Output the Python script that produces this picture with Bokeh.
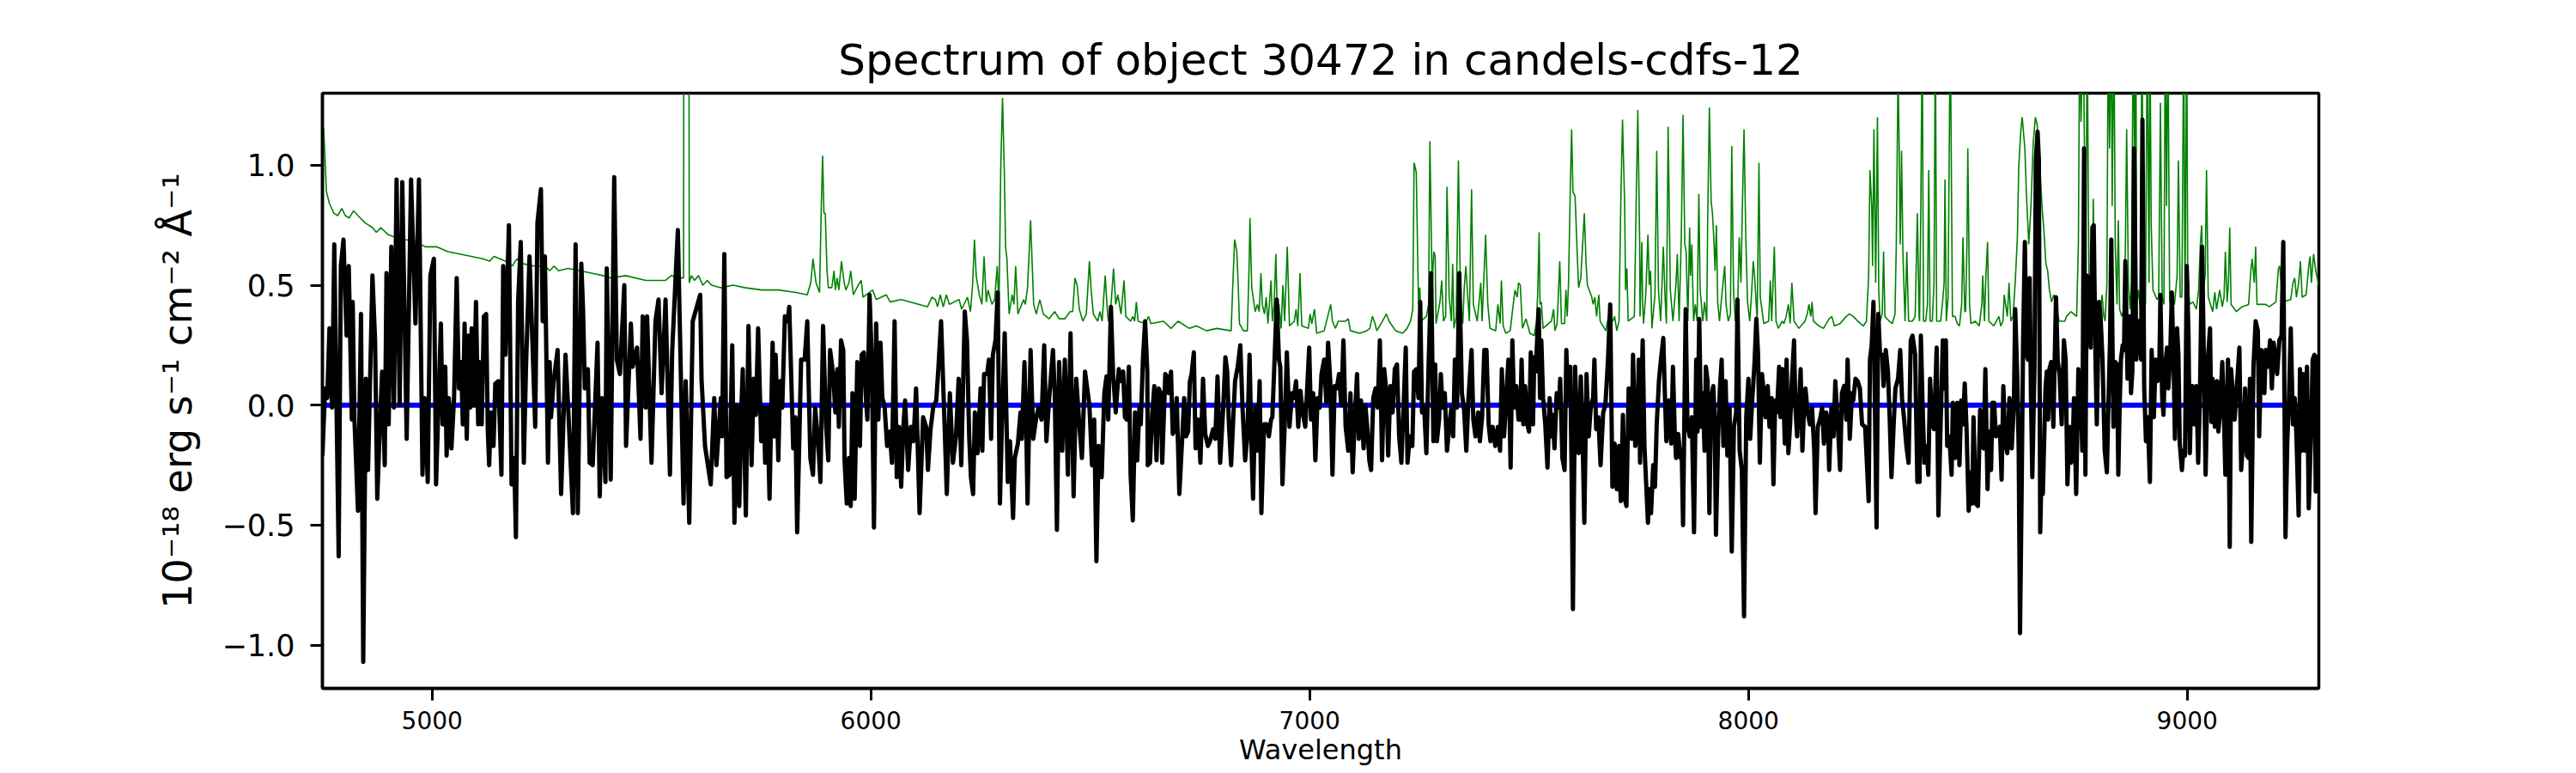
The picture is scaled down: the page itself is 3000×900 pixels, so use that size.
import numpy as np
from bokeh.plotting import figure
from bokeh.models import FixedTicker
from bokeh.embed import file_html
from bokeh.resources import INLINE

# ---- data (wavelength [A], flux [1e-18 erg/s/cm2/A]) ----
obs_a = [(4750,-0.21),(4756,0.07),(4761,0.03),(4766,0.32),(4772,-0.01),(4777,0.67),(4787,-0.63),(4792,0.58),(4798,0.69),(4805,0.29),(4810,0.58),(4817,-0.06),(4819,0.43),(4823,-0.06),(4831,-0.44),(4838,0.38),(4843,-1.07),(4849,0.11),(4854,-0.27),(4864,0.54),(4870,0.27),(4875,-0.39),(4880,-0.13),(4886,0.14),(4892,-0.25),(4896,0.55),(4901,-0.08),(4907,0.66),(4913,-0.01),(4919,0.94),(4926,0.00),(4932,0.93),(4942,-0.14),(4952,0.94),(4962,0.34),(4970,0.94),(4978,-0.29),(4983,0.03),(4990,-0.32),(4996,0.54),(5004,0.61),(5009,-0.33),(5017,0.16),(5020,0.34),(5024,-0.08),(5030,0.16),(5033,-0.21),(5038,0.03),(5044,-0.18),(5050,0.03),(5056,0.53),(5061,0.07),(5066,0.18),(5070,-0.08),(5074,0.34),(5079,-0.14),(5083,0.29),(5087,-0.01),(5090,0.32),(5095,0.00),(5100,0.43),(5105,-0.08),(5108,0.18),(5113,-0.08),(5118,0.37),(5123,0.38),(5127,-0.11),(5130,-0.25),(5134,-0.03),(5140,-0.17),(5144,0.09),(5151,0.10),(5158,-0.29),(5162,0.58),(5167,0.21),(5175,0.75),(5181,-0.33),(5187,-0.22),(5191,-0.55),(5196,0.43),(5202,0.68),(5209,-0.24),(5214,0.16),(5222,0.62),(5235,-0.09),(5240,0.76),(5248,0.90),(5252,0.35),(5257,0.62),(5264,-0.24),(5268,0.18),(5271,-0.05),(5277,0.10),(5286,0.23),(5294,-0.37),(5304,0.21),(5310,-0.01),(5321,-0.45),(5327,0.67),(5332,-0.45),(5340,0.59),(5344,0.40),(5348,0.07),(5355,0.15),(5359,-0.24),(5366,-0.25),(5377,0.26),(5382,-0.38),(5387,0.03),(5395,-0.32),(5398,0.57),(5407,-0.31),(5415,0.95),(5421,0.19),(5428,0.13),(5438,0.50),(5442,-0.17),(5453,0.34),(5457,0.16),(5467,0.24),(5475,-0.14),(5480,0.37),(5487,-0.01),(5490,0.37),(5500,-0.24),(5509,0.35),(5516,0.44),(5523,0.05),(5532,0.44),(5542,-0.29),(5547,0.22),(5560,0.73),(5573,-0.41),(5578,0.10),(5586,-0.49),(5594,0.35),(5611,0.46),(5614,0.11),(5622,-0.17),(5635,-0.33),(5643,0.03),(5648,-0.25),(5658,0.03)]
obs_b = [(5661,-0.13),(5666,0.63),(5671,-0.30),(5678,-0.29),(5684,0.25),(5689,-0.49),(5695,0.00),(5700,-0.42),(5705,0.00),(5708,0.15),(5715,-0.46),(5721,0.33),(5728,-0.25),(5733,0.11),(5738,-0.04),(5743,0.32),(5750,-0.15),(5756,-0.01),(5759,-0.24),(5764,-0.01),(5769,-0.39),(5776,0.26),(5780,-0.13),(5783,0.21),(5789,-0.23),(5793,0.10),(5798,-0.01),(5804,0.37),(5810,0.35),(5814,0.41),(5823,-0.18),(5828,-0.05),(5832,-0.53),(5841,0.19),(5849,0.19),(5855,0.35),(5862,-0.22),(5868,-0.29),(5873,-0.01),(5880,-0.16),(5885,-0.32),(5891,0.33),(5898,-0.09),(5903,-0.23),(5907,0.23),(5914,0.13),(5919,-0.03),(5924,0.15),(5927,-0.09),(5932,0.27),(5937,0.23),(5940,-0.23),(5945,-0.41),(5950,-0.22),(5954,-0.42),(5958,0.05),(5963,-0.39),(5969,0.18),(5975,-0.17),(5979,0.21),(5984,0.22),(5989,0.02),(5992,-0.06),(5997,0.46),(6002,0.19),(6007,-0.51),(6012,0.34),(6017,-0.06),(6022,0.26),(6026,0.03),(6031,0.00),(6037,-0.17),(6043,-0.11),(6048,-0.24),(6054,0.35),(6059,-0.30),(6064,-0.09),(6069,-0.34),(6074,-0.09),(6078,0.02),(6085,-0.27),(6091,-0.09),(6097,-0.15),(6103,0.07),(6111,-0.45),(6119,-0.05),(6126,-0.09),(6130,-0.27),(6136,-0.10),(6142,-0.01),(6149,0.02),(6154,0.16),(6160,0.35),(6167,-0.03),(6173,-0.37),(6180,0.05),(6187,-0.24),(6194,-0.13),(6200,0.11),(6206,-0.25),(6214,0.39),(6219,0.27),(6224,-0.13),(6228,-0.30),(6233,-0.37),(6237,-0.03),(6243,-0.20),(6250,0.07),(6254,-0.19),(6258,0.13),(6265,0.13),(6269,0.19),(6274,-0.14),(6278,0.21),(6284,0.27),(6289,0.47),(6294,-0.41),(6299,-0.06),(6305,0.30),(6312,-0.32),(6317,-0.15),(6324,-0.47),(6328,-0.22),(6335,-0.16),(6341,-0.03),(6344,-0.14),(6350,0.18),(6354,-0.08),(6357,-0.41),(6364,0.23),(6370,-0.14),(6377,-0.05),(6382,-0.01),(6389,-0.06),(6395,0.25),(6400,-0.15),(6406,0.02),(6415,0.23),(6419,0.05),(6424,-0.52),(6429,0.18),(6436,-0.19),(6442,0.19),(6449,-0.29),(6455,0.30),(6462,-0.38),(6468,0.11),(6475,-0.08),(6481,-0.22),(6488,0.14),(6498,0.00),(6504,-0.25),(6509,-0.06),(6514,-0.65),(6519,-0.17),(6526,-0.30),(6532,0.05),(6537,0.12),(6541,-0.06),(6547,0.41),(6552,0.13),(6558,-0.03),(6565,0.15)]
obs_c = [(6570,0.10),(6575,0.14),(6579,-0.05),(6583,-0.06),(6588,0.16),(6592,-0.29),(6597,-0.48),(6602,-0.03),(6607,-0.23),(6612,-0.01),(6615,-0.08),(6620,0.19),(6625,0.35),(6630,0.14),(6631,-0.25),(6636,-0.24),(6641,-0.04),(6646,0.08),(6651,-0.23),(6656,0.07),(6661,0.05),(6664,-0.24),(6671,0.13),(6675,0.12),(6679,0.05),(6684,0.14),(6688,-0.12),(6693,-0.10),(6697,0.03),(6703,-0.37),(6710,-0.12),(6714,0.03),(6718,-0.13),(6723,-0.11),(6727,0.10),(6731,0.13),(6736,0.22),(6740,-0.18),(6746,-0.06),(6751,-0.24),(6757,0.11),(6762,-0.12),(6768,-0.17),(6773,-0.15),(6780,-0.10),(6785,-0.14),(6790,0.12),(6796,-0.24),(6803,-0.01),(6808,0.20),(6812,0.14),(6816,-0.08),(6821,-0.25),(6826,-0.05),(6830,0.10),(6836,0.16),(6842,0.25),(6847,-0.01),(6853,-0.23),(6858,-0.13),(6863,0.21),(6868,-0.21),(6871,-0.39),(6876,-0.01),(6881,-0.19),(6886,0.10),(6890,-0.45),(6896,-0.08),(6902,-0.08),(6907,-0.13),(6912,-0.06),(6915,-0.05),(6920,0.19),(6925,0.44),(6930,0.19),(6933,0.16),(6938,-0.33),(6943,-0.09),(6948,0.22),(6954,-0.09),(6960,0.05),(6964,0.03),(6969,0.10),(6974,-0.09),(6979,0.06),(6984,-0.03),(6990,-0.09),(6993,0.02),(6999,0.24),(7003,-0.06),(7008,0.05),(7013,-0.23),(7018,0.03),(7023,-0.01),(7027,0.13),(7033,0.19),(7038,0.01),(7042,0.26),(7047,0.10),(7052,-0.29),(7057,0.08),(7062,0.07),(7067,0.13),(7072,0.00),(7077,0.27),(7082,-0.09),(7088,-0.19),(7093,0.05),(7098,-0.28),(7103,-0.05),(7108,0.13),(7112,-0.14),(7117,0.02),(7123,-0.18),(7127,0.00),(7132,-0.11),(7136,-0.23),(7140,-0.27),(7145,0.03),(7150,0.07),(7155,-0.01),(7160,0.27),(7165,-0.23),(7170,0.15),(7175,0.05),(7179,-0.21),(7184,0.08),(7189,-0.03),(7194,0.15),(7199,0.17),(7204,-0.13),(7209,-0.24),(7214,-0.01),(7219,0.24),(7223,-0.24),(7228,-0.13),(7234,-0.17),(7238,0.14),(7243,0.15),(7248,0.03),(7252,0.43),(7256,-0.03),(7261,-0.01),(7266,-0.20),(7271,0.16),(7277,0.55),(7282,-0.15),(7286,0.17),(7290,-0.15),(7295,-0.06),(7299,0.13),(7303,-0.01),(7308,0.05),(7313,-0.19),(7318,-0.09),(7323,-0.01),(7327,-0.13),(7331,0.19),(7336,-0.01),(7341,0.55),(7347,0.05),(7352,-0.02),(7357,-0.19),(7362,0.03),(7369,0.23),(7373,-0.06),(7378,-0.13),(7384,-0.03),(7388,-0.15),(7393,-0.05),(7398,0.23),(7403,0.23),(7408,-0.08),(7412,-0.15),(7417,-0.09),(7423,-0.17),(7429,-0.09),(7434,-0.19),(7438,0.15),(7443,-0.13),(7450,0.10),(7453,0.19),(7458,-0.26),(7462,0.27),(7466,-0.01),(7471,0.08),(7476,-0.06)]
obs_d = [(7480,-0.06),(7483,0.19),(7487,-0.08),(7491,0.08),(7496,-0.08),(7500,-0.11),(7504,0.22),(7509,-0.08),(7512,0.20),(7515,0.14),(7519,0.29),(7522,0.40),(7525,0.03),(7528,0.27),(7532,0.03),(7537,-0.08),(7542,-0.26),(7547,0.03),(7551,-0.13),(7554,-0.04),(7558,-0.18),(7563,0.05),(7568,-0.01),(7571,0.11),(7576,-0.22),(7581,-0.27),(7585,0.23),(7589,0.02),(7594,0.16),(7597,-0.29),(7600,-0.85),(7605,0.16),(7609,-0.06),(7613,-0.20),(7618,0.12),(7622,-0.13),(7626,-0.49),(7631,0.13),(7636,-0.13),(7641,0.00),(7646,0.03),(7649,0.19),(7653,-0.10),(7658,-0.05),(7663,-0.25),(7669,-0.03),(7674,0.00),(7680,0.19),(7685,0.42),(7690,-0.34),(7695,-0.16),(7700,-0.35),(7705,-0.17),(7709,-0.40),(7714,-0.04),(7718,-0.39),(7722,-0.42),(7727,0.07),(7734,-0.14),(7737,0.21),(7742,-0.17),(7747,-0.09),(7750,0.19),(7753,-0.24),(7759,0.27),(7763,-0.17),(7766,-0.29),(7771,-0.49),(7774,-0.35),(7778,-0.45),(7783,-0.25),(7787,-0.34),(7791,-0.08),(7796,0.10),(7800,0.18),(7806,0.28),(7809,0.08),(7813,-0.15),(7819,0.02),(7824,-0.16),(7828,0.16),(7832,-0.11),(7835,-0.22),(7840,-0.12),(7845,-0.22),(7848,-0.19),(7851,-0.50),(7857,0.40),(7861,-0.08),(7866,-0.13),(7871,-0.05),(7876,-0.53),(7881,0.19),(7884,-0.11),(7888,0.36),(7892,-0.09),(7896,0.05),(7900,-0.19),(7903,0.16),(7907,0.10),(7911,-0.45),(7915,0.03),(7920,0.08),(7923,-0.06),(7926,-0.54),(7931,-0.13),(7935,0.07),(7939,0.19),(7943,-0.17),(7948,0.10),(7952,-0.21),(7957,-0.01),(7962,-0.61),(7967,-0.09),(7972,-0.03),(7975,0.44),(7980,-0.19),(7985,-0.27),(7990,-0.88),(7995,-0.05),(8000,0.11),(8004,-0.14),(8009,0.03),(8014,0.18),(8018,0.36),(8022,0.21),(8026,-0.24),(8031,0.13),(8035,0.05),(8039,-0.05),(8044,0.08),(8048,-0.09),(8053,0.03),(8057,-0.33),(8061,0.02),(8065,-0.03),(8070,0.16),(8073,-0.05),(8078,0.15),(8083,-0.16),(8087,0.19),(8091,-0.20),(8095,-0.08),(8099,0.10),(8104,0.27),(8107,-0.01),(8111,-0.13),(8116,0.03),(8119,0.15),(8123,-0.19),(8127,0.00),(8130,0.07),(8135,-0.03),(8140,-0.08),(8145,-0.01),(8150,-0.19),(8153,-0.45),(8158,-0.09),(8163,-0.06),(8168,-0.01),(8172,-0.16),(8177,-0.03),(8181,-0.06),(8184,-0.27),(8189,-0.01),(8194,-0.13),(8198,0.10),(8204,-0.09),(8209,-0.27),(8213,0.05),(8218,0.08),(8223,-0.06),(8226,0.19),(8231,-0.14),(8236,0.05),(8239,0.02),(8244,0.11),(8249,0.10),(8254,0.07),(8259,-0.08),(8266,-0.09),(8270,-0.24),(8274,-0.40),(8277,0.19),(8281,0.25),(8285,0.43),(8288,0.03),(8292,-0.51),(8296,0.38),(8300,0.21),(8305,0.21),(8308,0.08),(8313,0.23),(8318,0.14),(8322,-0.06),(8326,-0.30),(8331,-0.08),(8335,0.07),(8341,0.11),(8346,0.23),(8350,0.03),(8355,-0.06),(8360,-0.17),(8365,-0.24),(8370,0.27),(8374,0.29),(8380,0.21),(8385,-0.32),(8389,-0.22)]
obs_e = [(8390,-0.32),(8393,0.29),(8397,0.00),(8401,-0.24),(8406,-0.17),(8410,-0.29),(8414,0.11),(8419,-0.08),(8423,-0.10),(8429,0.24),(8433,-0.46),(8438,-0.08),(8443,0.27),(8447,0.07),(8450,0.27),(8453,-0.17),(8458,-0.13),(8463,-0.29),(8466,0.01),(8471,-0.22),(8476,0.01),(8481,-0.25),(8485,0.02),(8489,-0.08),(8493,0.09),(8497,-0.09),(8502,-0.44),(8506,-0.28),(8510,-0.41),(8513,-0.05),(8518,-0.41),(8523,-0.42),(8528,-0.02),(8532,-0.17),(8536,-0.18),(8540,0.15),(8545,-0.35),(8548,-0.11),(8553,-0.27),(8556,0.01),(8560,0.01),(8564,-0.13),(8569,-0.12),(8573,-0.09),(8577,-0.31),(8581,0.08),(8585,-0.15),(8590,-0.20),(8595,0.03),(8600,-0.18),(8605,0.00),(8608,0.40),(8613,0.10),(8616,-0.19),(8619,-0.95),(8623,-0.30),(8626,0.26),(8630,0.68),(8634,0.21),(8637,0.19),(8641,0.53),(8644,0.03),(8647,-0.30),(8652,0.16),(8655,1.02),(8659,1.14),(8662,1.02),(8665,-0.53),(8669,-0.19),(8671,-0.37),(8677,0.07),(8680,0.14),(8683,-0.06),(8686,0.15),(8690,0.18),(8695,-0.09),(8697,0.10),(8701,0.45),(8705,0.18),(8709,0.13),(8714,-0.08),(8719,0.27),(8723,0.19),(8727,-0.33),(8732,-0.09),(8735,-0.24),(8738,-0.23),(8742,0.03),(8747,-0.37),(8752,0.15),(8755,-0.09),(8758,-0.01),(8761,-0.19),(8765,1.07),(8768,-0.29),(8771,0.54),(8776,0.53),(8780,0.24),(8784,0.74),(8787,0.75),(8791,0.19),(8794,-0.08),(8799,0.43),(8802,0.39),(8807,0.19),(8812,-0.19),(8817,-0.28),(8820,-0.03),(8824,0.26),(8827,0.69),(8832,-0.09),(8836,0.18),(8840,0.17),(8843,-0.29),(8846,-0.01),(8849,0.19),(8853,0.25),(8856,0.23),(8859,0.60),(8864,0.11),(8869,0.37),(8872,0.05),(8875,0.14),(8879,1.07),(8884,0.19),(8887,0.34),(8890,0.35),(8895,0.19),(8898,1.19),(8902,0.07),(8906,-0.15),(8910,-0.05),(8915,-0.32),(8919,0.23),(8924,-0.05),(8928,0.19),(8932,0.10),(8936,0.11),(8939,0.46),(8943,0.03),(8946,-0.04),(8949,0.15),(8954,0.24),(8957,0.07),(8961,0.19),(8965,0.47),(8969,0.18),(8972,-0.14),(8977,0.32),(8980,0.21),(8983,-0.16),(8988,-0.27),(8991,-0.19),(8995,-0.21),(8999,0.58),(9003,0.29),(9006,-0.20),(9009,0.03),(9012,0.08),(9016,-0.08),(9021,0.08),(9025,-0.24),(9029,0.03),(9034,0.66),(9039,0.07),(9042,-0.29),(9047,0.19),(9052,0.32),(9055,-0.07),(9058,0.11),(9063,-0.09),(9068,0.10),(9071,-0.11),(9074,-0.05),(9080,0.18),(9084,-0.06),(9087,-0.29),(9093,0.19),(9097,-0.59),(9100,0.15),(9104,0.05),(9108,-0.06),(9112,0.05),(9115,0.13),(9119,0.24),(9123,-0.27),(9128,-0.13),(9132,0.07),(9136,-0.21),(9140,-0.22),(9143,0.11),(9146,-0.57),(9151,0.16),(9156,0.35),(9161,0.31),(9164,-0.13),(9169,0.23),(9172,0.09),(9176,0.05),(9179,0.23),(9184,0.16),(9189,0.27),(9193,0.07),(9197,0.26),(9202,0.19),(9205,0.13),(9210,0.27),(9215,0.29),(9219,0.68),(9224,-0.55),(9228,-0.16),(9232,0.03),(9236,0.32),(9241,-0.08),(9245,0.03),(9249,-0.13),(9254,-0.46),(9257,0.15),(9261,-0.19),(9265,0.13),(9269,-0.19),(9273,0.16),(9277,-0.43),(9282,-0.13),(9286,0.19),(9290,0.21),(9293,-0.36),(9297,0.21)]

sky_a = [(4750,1.16),(4753,1.15),(4759,0.89),(4766,0.84),(4776,0.80),(4785,0.79),(4794,0.82),(4802,0.79),(4811,0.78),(4821,0.81),(4831,0.79),(4847,0.76),(4864,0.74),(4873,0.72),(4883,0.74),(4900,0.71),(4916,0.70),(4939,0.69),(4965,0.68),(4984,0.66),(5010,0.66),(5036,0.64),(5063,0.63),(5089,0.62),(5115,0.61),(5131,0.60),(5141,0.62),(5167,0.60),(5183,0.58),(5193,0.61),(5206,0.59),(5232,0.58),(5258,0.58),(5268,0.56),(5278,0.58),(5288,0.56),(5310,0.57),(5337,0.56),(5363,0.55),(5389,0.54),(5408,0.53),(5441,0.54),(5487,0.52),(5532,0.52),(5545,0.54),(5565,0.53),(5573,0.53),(5575,4.0),(5584,4.0),(5586,0.51),(5591,0.54),(5598,0.52),(5607,0.54),(5617,0.50),(5627,0.52),(5637,0.50),(5656,0.49)]
sky_b = [(5660,0.49),(5686,0.50),(5712,0.49),(5751,0.48),(5790,0.48),(5829,0.47),(5855,0.46),(5863,0.51),(5868,0.61),(5875,0.51),(5883,0.47),(5887,0.83),(5890,1.04),(5893,0.80),(5896,0.80),(5900,0.56),(5903,0.49),(5911,0.49),(5916,0.56),(5919,0.48),(5923,0.53),(5927,0.48),(5933,0.60),(5939,0.51),(5943,0.48),(5950,0.51),(5954,0.56),(5960,0.46),(5971,0.50),(5978,0.52),(5982,0.45),(6004,0.48),(6012,0.44),(6035,0.46),(6044,0.43),(6069,0.44),(6110,0.42),(6129,0.41),(6139,0.45),(6147,0.44),(6152,0.41),(6158,0.46),(6165,0.41),(6172,0.46),(6179,0.42),(6201,0.44),(6207,0.40),(6220,0.45),(6227,0.39),(6232,0.51),(6236,0.69),(6240,0.54),(6247,0.46),(6253,0.42),(6258,0.62),(6263,0.43),(6267,0.48),(6276,0.42),(6282,0.44),(6288,0.58),(6292,0.41),(6296,0.99),(6300,1.28),(6304,0.98),(6307,0.66),(6310,0.61),(6315,0.38),(6322,0.46),(6326,0.42),(6330,0.58),(6335,0.38),(6348,0.44),(6352,0.42),(6357,0.49),(6364,0.77),(6371,0.42),(6377,0.38),(6385,0.44),(6393,0.38),(6406,0.36),(6419,0.39),(6429,0.36),(6442,0.36),(6454,0.39),(6460,0.39),(6465,0.53),(6470,0.50),(6475,0.40),(6483,0.35),(6491,0.38),(6498,0.60),(6502,0.48),(6507,0.38),(6517,0.35),(6522,0.39),(6527,0.35),(6534,0.54),(6538,0.42),(6541,0.35),(6547,0.41),(6553,0.57),(6558,0.42),(6563,0.46),(6569,0.39)]
sky_c = [(6570,0.38),(6577,0.52),(6581,0.37),(6592,0.35),(6597,0.37),(6601,0.35),(6605,0.43),(6609,0.35),(6625,0.34),(6633,0.37),(6638,0.34),(6667,0.35),(6684,0.32),(6700,0.35),(6726,0.32),(6742,0.33),(6765,0.31),(6788,0.32),(6821,0.31),(6825,0.51),(6829,0.69),(6834,0.64),(6837,0.51),(6840,0.34),(6849,0.31),(6858,0.31),(6862,0.58),(6864,0.78),(6868,0.49),(6876,0.39),(6881,0.42),(6885,0.39),(6889,0.55),(6892,0.42),(6897,0.38),(6901,0.45),(6905,0.34),(6912,0.52),(6915,0.35),(6919,0.42),(6923,0.63),(6927,0.32),(6930,0.42),(6935,0.32),(6939,0.50),(6943,0.35),(6949,0.66),(6954,0.33),(6965,0.35),(6969,0.40),(6973,0.33),(6978,0.55),(6982,0.33),(6997,0.32),(7001,0.38),(7005,0.34),(7011,0.40),(7016,0.30),(7033,0.31),(7048,0.42),(7052,0.35),(7059,0.32),(7065,0.35),(7082,0.35),(7088,0.36),(7093,0.31),(7114,0.30),(7130,0.31),(7137,0.32),(7143,0.37),(7149,0.34),(7153,0.31),(7166,0.35),(7175,0.38),(7181,0.35),(7196,0.31),(7212,0.30),(7222,0.32),(7230,0.35),(7235,0.40),(7238,1.01),(7243,0.97),(7248,0.42),(7251,0.49),(7254,0.35),(7266,0.37),(7271,0.42),(7274,1.10),(7279,0.51),(7283,0.64),(7286,0.62),(7288,0.34),(7297,0.43),(7301,0.52),(7305,0.35),(7310,0.37),(7313,0.91),(7318,0.45),(7323,0.35),(7326,0.59),(7329,0.32),(7334,0.37),(7339,1.02),(7344,0.43),(7349,0.34),(7352,0.48),(7356,0.58),(7360,0.46),(7364,0.35),(7369,0.90),(7373,0.42),(7382,0.35),(7390,0.51),(7393,0.35),(7401,0.71),(7406,0.42),(7411,0.32),(7424,0.31),(7429,0.42),(7434,0.34),(7437,0.52),(7441,0.33),(7447,0.30),(7457,0.31),(7464,0.42),(7468,0.48),(7473,0.45),(7476,0.51)]
sky_d = [(7480,0.50),(7485,0.32),(7493,0.36),(7502,0.30),(7512,0.29),(7517,0.35),(7520,0.48),(7523,0.72),(7525,0.42),(7528,0.43),(7532,0.32),(7538,0.33),(7551,0.35),(7556,0.40),(7559,0.31),(7564,0.34),(7570,0.60),(7574,0.34),(7581,0.34),(7584,0.48),(7587,0.37),(7590,0.51),(7594,0.90),(7597,1.15),(7600,0.89),(7605,0.87),(7610,0.62),(7613,0.49),(7618,0.53),(7623,0.70),(7626,0.80),(7630,0.59),(7633,0.50),(7643,0.45),(7646,0.42),(7650,0.45),(7654,0.37),(7659,0.46),(7662,0.35),(7675,0.31),(7682,0.38),(7691,0.35),(7695,0.37),(7700,0.31),(7705,0.35),(7709,0.83),(7713,1.19),(7718,0.83),(7720,0.48),(7723,0.57),(7726,0.35),(7740,0.37),(7744,0.83),(7748,1.23),(7752,0.69),(7753,0.37),(7757,0.68),(7759,0.42),(7761,0.34),(7766,0.46),(7771,0.71),(7774,0.50),(7777,0.56),(7780,0.32),(7787,0.46),(7791,1.06),(7795,0.48),(7800,0.35),(7806,0.66),(7810,0.45),(7813,0.34),(7817,1.16),(7822,0.48),(7828,0.35),(7835,0.51),(7838,0.63),(7842,0.35),(7847,0.70),(7851,1.21),(7855,0.67),(7858,0.64),(7862,0.35),(7866,0.74),(7868,0.54),(7871,0.67),(7875,0.35),(7879,0.42),(7883,0.35),(7887,0.88),(7890,0.48),(7896,0.35),(7900,0.43),(7905,0.35),(7907,0.75),(7911,1.24),(7915,0.85),(7918,0.80),(7921,0.70),(7924,0.56),(7927,0.75),(7930,0.43),(7934,0.35),(7939,0.45),(7946,0.58),(7949,0.42),(7954,0.35),(7959,0.38),(7962,1.08),(7966,0.48),(7970,0.35),(7975,0.37),(7979,0.70),(7983,0.51),(7987,0.90),(7990,1.15),(7994,0.70),(7998,0.43),(8003,0.35),(8007,0.46),(8011,0.60),(8014,0.54),(8020,0.35),(8024,1.01),(8027,0.45),(8035,0.34),(8046,0.35),(8050,0.52),(8053,0.35),(8059,0.66),(8063,0.35),(8068,0.32),(8077,0.35),(8081,0.34),(8086,0.37),(8091,0.42),(8095,0.34),(8099,0.51),(8104,0.35),(8115,0.32),(8129,0.35),(8134,0.38),(8138,0.42),(8142,0.37),(8145,0.43),(8148,0.35),(8161,0.33),(8171,0.32),(8184,0.36),(8190,0.37),(8196,0.33),(8209,0.34),(8223,0.37),(8230,0.38),(8239,0.37),(8249,0.35),(8262,0.33),(8269,0.35),(8274,0.54),(8277,0.98),(8281,0.83),(8283,0.58),(8286,1.15),(8290,0.51),(8294,1.20),(8297,0.48),(8300,0.35),(8305,0.38),(8308,0.64),(8311,0.37),(8321,0.35),(8328,0.34),(8334,0.38),(8337,0.67),(8341,1.40),(8343,1.15),(8346,0.67),(8349,1.06),(8352,0.64),(8357,0.35),(8361,0.64),(8365,0.35),(8374,0.35),(8380,0.37),(8385,0.80),(8389,0.37)]
sky_e = [(8390,0.35),(8393,0.83),(8396,1.6),(8399,0.35),(8404,0.35),(8408,0.42),(8411,0.98),(8414,0.35),(8419,0.35),(8423,0.51),(8426,1.6),(8429,0.35),(8438,0.35),(8442,0.42),(8446,0.51),(8448,0.94),(8451,0.35),(8455,0.45),(8457,0.91),(8460,1.6),(8465,0.37),(8471,0.37),(8476,0.34),(8481,0.33),(8486,0.42),(8489,0.70),(8493,0.39),(8495,0.39),(8498,0.67),(8500,1.07),(8504,0.42),(8507,0.34),(8517,0.35),(8526,0.33),(8532,0.42),(8534,0.54),(8538,0.35),(8541,0.53),(8545,0.68),(8548,0.35),(8559,0.33),(8571,0.37),(8575,0.33),(8580,0.35),(8583,0.46),(8586,0.42),(8590,0.37),(8594,0.51),(8598,0.35),(8603,0.37),(8608,0.51),(8613,0.70),(8616,0.99),(8621,1.15),(8624,1.20),(8630,1.07),(8634,0.86),(8639,0.67),(8644,0.83),(8649,1.09),(8654,1.20),(8658,1.17),(8663,1.04),(8669,0.83),(8673,0.74),(8678,0.59),(8682,0.56),(8686,0.48),(8691,0.43),(8696,0.46),(8701,0.42),(8708,0.35),(8721,0.35),(8725,0.37),(8735,0.39),(8748,0.37),(8752,0.67),(8755,1.6),(8758,1.18),(8763,1.6),(8767,0.83),(8769,0.51),(8772,1.6),(8776,0.51),(8780,0.37),(8783,0.35),(8786,0.86),(8789,0.51),(8793,0.35),(8802,0.39),(8806,0.46),(8810,0.37),(8813,0.35),(8817,0.51),(8820,1.6),(8823,1.07),(8827,1.6),(8829,0.83),(8833,1.6),(8836,0.67),(8840,0.42),(8843,0.77),(8846,0.40),(8851,0.37),(8856,0.40),(8859,0.64),(8862,1.15),(8866,0.51),(8870,0.40),(8873,0.51),(8877,1.6),(8880,0.99),(8883,1.6),(8885,0.42),(8889,0.48),(8893,0.40),(8897,1.6),(8900,0.67),(8902,0.51),(8905,0.42),(8909,1.6),(8913,0.51),(8915,1.6),(8918,0.75),(8922,0.48),(8931,0.44),(8935,0.45),(8939,1.26),(8943,0.45),(8947,0.42),(8950,1.6),(8953,0.83),(8956,1.6),(8960,0.43),(8971,0.42),(8977,0.54),(8980,1.02),(8984,0.45),(8988,0.45),(8992,1.6),(8995,0.44),(8999,1.6),(9001,0.58),(9005,0.42),(9013,0.43),(9021,0.40),(9026,0.48),(9030,0.67),(9033,0.75),(9037,0.48),(9041,0.54),(9044,0.98),(9048,0.45),(9058,0.39),(9063,0.47),(9067,0.40),(9074,0.48),(9080,0.41),(9084,0.45),(9087,0.64),(9091,0.43),(9094,0.51),(9097,0.74),(9100,0.42),(9112,0.39),(9125,0.41),(9140,0.42),(9145,0.56),(9148,0.61),(9153,0.51),(9156,0.66),(9159,0.42),(9179,0.42),(9187,0.41),(9202,0.43),(9208,0.57),(9211,0.58),(9217,0.43),(9236,0.44),(9241,0.51),(9245,0.53),(9249,0.45),(9254,0.51),(9258,0.60),(9262,0.45),(9271,0.46),(9277,0.58),(9280,0.62),(9283,0.51),(9288,0.63),(9293,0.56),(9300,0.50)]

model_wave = [4750, 9300]
model_flux = [0.0, 0.0]

x_ticks = [5000, 6000, 7000, 8000, 9000]
y_ticks = [-1.0, -0.5, 0.0, 0.5, 1.0]
y_tick_labels = ["\u22121.0", "\u22120.5", "0.0", "0.5", "1.0"]

obs = np.array(obs_a + obs_b + obs_c + obs_d + obs_e)
sky = np.array(sky_a + sky_b + sky_c + sky_d + sky_e)

FONT = "DejaVu Sans"

p = figure(width=3000, height=900, x_range=(4750, 9300), y_range=(-1.18, 1.30),
           output_backend="svg", toolbar_location=None,
           min_border_left=375, min_border_right=300, min_border_top=108, min_border_bottom=99,
           title="Spectrum of object 30472 in candels-cdfs-12")

p.title.align = "center"
p.title.text_font = FONT
p.title.text_font_size = "50px"
p.title.text_font_style = "normal"
p.title.text_color = "black"
p.title.standoff = 20

p.xgrid.visible = False
p.ygrid.visible = False
p.background_fill_color = "white"
p.border_fill_color = "white"
p.outline_line_color = "black"
p.outline_line_width = 3.5
p.outline_line_alpha = 1.0

p.line(model_wave, model_flux, line_color="#0000ff", line_width=6)
p.line(sky[:, 0], sky[:, 1], line_color="#008000", line_width=1.6)
p.line(obs[:, 0], obs[:, 1], line_color="black", line_width=5, line_join="round")

p.xaxis.ticker = FixedTicker(ticks=x_ticks, minor_ticks=[])
p.yaxis.ticker = FixedTicker(ticks=y_ticks, minor_ticks=[])
p.yaxis.major_label_overrides = {t: s for t, s in zip(y_ticks, y_tick_labels)}

for ax in (p.xaxis[0], p.yaxis[0]):
    ax.axis_line_color = "black"
    ax.axis_line_width = 3.5
    ax.major_tick_line_color = "black"
    ax.major_tick_line_width = 3
    ax.major_tick_in = 0
    ax.major_tick_out = 14
    ax.minor_tick_in = 0
    ax.minor_tick_out = 0
    ax.major_label_text_font = FONT
    ax.major_label_text_color = "black"
    ax.axis_label_text_font = FONT
    ax.axis_label_text_font_style = "normal"
    ax.axis_label_text_color = "black"

p.xaxis.major_label_text_font_size = "28px"
p.xaxis.major_label_standoff = 12
p.xaxis.axis_label = "Wavelength"
p.xaxis.axis_label_text_font_size = "32px"
p.xaxis.axis_label_standoff = 2

p.yaxis.major_label_text_font_size = "35px"
p.yaxis.major_label_standoff = 18
p.yaxis.axis_label = "10\u207b\u00b9\u2078 erg s\u207b\u00b9 cm\u207b\u00b2 \u00c5\u207b\u00b9"
p.yaxis.axis_label_text_font_size = "46px"
p.yaxis.axis_label_standoff = 22

open("out.html", "w").write(file_html(p, INLINE))
